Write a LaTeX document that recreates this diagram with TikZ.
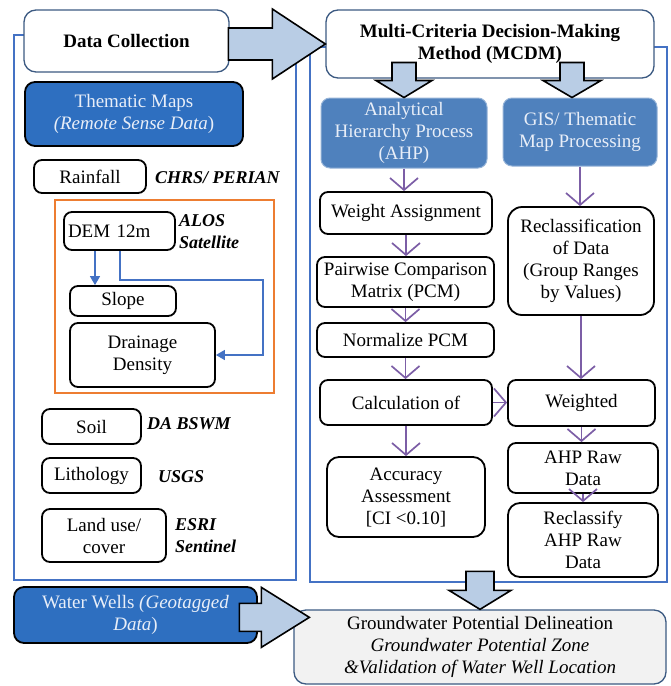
\documentclass[tikz,border=0pt]{standalone}
\usepackage{fontspec}
\setmainfont{Liberation Serif}
\usetikzlibrary{arrows.meta, calc}

\definecolor{framebl}{RGB}{68,114,196}
\definecolor{deepbl}{RGB}{46,111,192}
\definecolor{steelbl}{RGB}{79,129,189}
\definecolor{paletxt}{RGB}{232,238,248}
\definecolor{arrowfill}{RGB}{185,205,229}
\definecolor{ahppurple}{RGB}{124,94,166}
\definecolor{demorange}{RGB}{237,125,49}
\definecolor{slate}{RGB}{60,90,130}
\definecolor{gwfill}{RGB}{242,242,242}

\begin{document}
\begin{tikzpicture}[
    x=1pt, y=-1pt,
    font=\fontsize{19}{22}\selectfont,
    procbox/.style={draw, line width=1.8pt, rounded corners=8pt, fill=white,
                    align=center, inner sep=2pt},
    bluebox/.style={procbox, fill=deepbl, text=paletxt},
    ahpbox/.style={draw=steelbl!60!white, line width=1pt, rounded corners=9pt,
                   fill=steelbl, text=paletxt, align=center, inner sep=2pt},
    srclabel/.style={align=left, inner sep=0pt,
                     font=\fontsize{18}{22}\selectfont\bfseries\itshape},
    panel/.style={draw=framebl, line width=1.5pt},
    bigarrow/.style={draw, line width=1.6pt, fill=arrowfill, line join=miter},
    flow/.style={-{Straight Barb[length=12pt, width=28pt]}, ahppurple, line width=1.7pt},
    demarrow/.style={-{Triangle[length=9pt, width=10pt]}, framebl, line width=1.5pt},
]
\useasboundingbox (0,0) rectangle (671,686);

% ===================== FRAMES =====================
\draw[panel] (14,35) rectangle (296,580);
\draw[panel] (310,47) rectangle (667,582);
\draw[demorange, line width=1.8pt] (55,200) rectangle (274,393);

% ===================== LEFT: DATA COLLECTION =====================
\node[procbox, draw=slate, line width=1.3pt, rounded corners=12pt,
      minimum width=205, minimum height=62] (dc) at (126.5,41) {\bfseries Data Collection};
\node[bluebox, rounded corners=10pt, minimum width=218, minimum height=64]
    (thematic) at (134,114) {Thematic Maps\\\textit{(Remote Sense Data})};

\node[procbox, minimum width=112, minimum height=33] (rainfall) at (90,176.5) {Rainfall};
\node[srclabel, anchor=west] (chrs) at (155,178) {CHRS/ PERIAN};

% DEM group (orange frame)
\node[procbox, minimum width=111, minimum height=38, text width=103, align=left]
    (dem) at (119.5,231) {DEM 12m};
\node[srclabel, anchor=west] (alos) at (179,232) {ALOS\\Satellite};
\node[procbox, minimum width=106, minimum height=30] (slope) at (123,301) {Slope};
\node[procbox, minimum width=145, minimum height=64] (drainage) at (142.5,355) {Drainage\\Density};

\draw[demarrow] ([xshift=-24.5]dem.south) -- ([xshift=-24.5]dem.south |- slope.north);
\draw[demarrow] ([xshift=0.5]dem.south) -- ++(0,29) -| ([xshift=47]drainage.east)
    -- (drainage.east);

\node[procbox, minimum width=99, minimum height=35] (soil) at (91.5,426.5) {Soil};
\node[srclabel, anchor=west] (bswm) at (147,424) {DA BSWM};
\node[procbox, minimum width=99, minimum height=35] (litho) at (91.5,475.5) {Lithology};
\node[srclabel, anchor=west] (usgs) at (158,477) {USGS};
\node[procbox, minimum width=124, minimum height=53] (landuse) at (104,535.5) {Land use/\\cover};
\node[srclabel, anchor=west] (esri) at (175,536) {ESRI\\Sentinel};

% ===================== RIGHT: MCDM =====================
\node[procbox, draw=slate, line width=1.3pt, rounded corners=12pt,
      minimum width=328, minimum height=68] (mcdm) at (490,44)
    {\textbf{Multi-Criteria Decision-Making}\\\textbf{Method (MCDM)}};

\node[ahpbox, minimum width=166, minimum height=70] (ahp) at (404,133)
    {Analytical\\Hierarchy Process\\(AHP)};
\node[ahpbox, minimum width=154, minimum height=68] (gis) at (580,132)
    {GIS/ Thematic\\Map Processing};

% AHP column
\node[procbox, minimum width=172, minimum height=42] (weight) at (406,213) {Weight Assignment};
\node[procbox, minimum width=177, minimum height=50] (pcm) at (405.5,282)
    {Pairwise Comparison\\Matrix (PCM)};
\node[procbox, minimum width=177, minimum height=34] (norm) at (405.5,340) {Normalize PCM};
\node[procbox, minimum width=172, minimum height=45] (calcbox) at (406,402.5) {Calculation of};
\node[procbox, rounded corners=12pt, minimum width=158, minimum height=80] (accuracy)
    at (406,497) {Accuracy\\Assessment\\{[CI <0.10]}};

% GIS column
\node[procbox, rounded corners=14pt, minimum width=146, minimum height=108] (reclass)
    at (581,261) {Reclassification\\of Data\\(Group Ranges\\by Values)};
\node[procbox, minimum width=147, minimum height=46] (weighted) at (581.5,403) {Weighted};
\node[procbox, minimum width=150, minimum height=50] (raw) at (583,468) {AHP Raw\\Data};
\node[procbox, rounded corners=12pt, minimum width=150, minimum height=74] (reclassify)
    at (583,540) {Reclassify\\AHP Raw\\Data};

% purple flow arrows
\foreach \a/\b in {ahp/weight, weight/pcm, pcm/norm, norm/calcbox, calcbox/accuracy,
                   gis/reclass, reclass/weighted, weighted/raw, raw/reclassify}
    \draw[flow] (\a.south) -- (\a.south |- \b.north);
\draw[flow] (calcbox.east) -- (calcbox.east -| weighted.west);

% ===================== BOTTOM =====================
\node[bluebox, rounded corners=10pt, minimum width=243, minimum height=56] (wells)
    at (135.5,615) {Water Wells \textit{(Geotagged}\\\textit{Data})};
\node[procbox, draw=slate, fill=gwfill, line width=1.3pt, rounded corners=12pt,
      minimum width=372, minimum height=74] (gw) at (480,647)
    {Groundwater Potential Delineation\\\textit{Groundwater Potential Zone}\\
     \textit{\&Validation of Water Well Location}};

% ===================== BLOCK ARROWS =====================
\draw[bigarrow, shift={(mcdm.west)}]
    (-97,-16) -- (-53,-16) -- (-53,-35) -- (0,0) -- (-53,35) -- (-53,16) -- (-97,16) -- cycle;
\draw[bigarrow, shift={(ahp.north)}]
    (-12,-35) -- (-12,-17) -- (-28,-17) -- (0,0) -- (28,-17) -- (12,-17) -- (12,-35) -- cycle;
\draw[bigarrow, shift={($(gis.north)+(-8,0)$)}]
    (-12,-35) -- (-12,-17) -- (-29,-17) -- (0,0) -- (29,-17) -- (12,-17) -- (12,-35) -- cycle;
\draw[bigarrow, shift={($(gw.north west)+(16,8)$)}]
    (-70,-14) -- (-48,-14) -- (-48,-30) -- (0,0) -- (-48,30) -- (-48,14) -- (-70,14) -- cycle;
\draw[bigarrow, shift={(gw.north)}]
    (-14,-38) -- (-14,-19) -- (-31,-19) -- (0,0) -- (31,-19) -- (14,-19) -- (14,-38) -- cycle;

\end{tikzpicture}
\end{document}
